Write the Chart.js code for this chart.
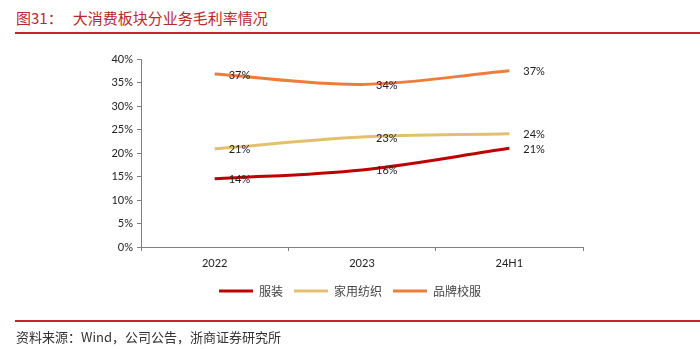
<!DOCTYPE html>
<html>
<head>
<meta charset="utf-8">
<script src="https://cdn.jsdelivr.net/npm/chart.js@4.4.1/dist/chart.umd.min.js"></script>
<style>
    html, body { margin: 0; padding: 0; background: #fff; }
    #wrap { position: relative; width: 700px; height: 349px; overflow: hidden; }
    #chart { position: absolute; left: 0; top: 0; }
    .titulo {
        position: absolute; left: 16px; top: 7px;
        font: 15px "Noto Sans CJK SC", sans-serif; color: #b8282e;
        white-space: nowrap;
    }
    .titulo span { margin-left: 10px; }
    .regla { position: absolute; left: 15px; right: 0; height: 2px; background: #c0262d; }
    .fuente {
        position: absolute; left: 16px; top: 327px;
        font: 13px "Noto Sans CJK SC", sans-serif; color: #333;
        white-space: nowrap;
    }
</style>
</head>
<body>
<div id="wrap">
    <div class="titulo">图31：<span>大消费板块分业务毛利率情况</span></div>
    <div class="regla" style="top: 32px;"></div>
    <canvas id="chart" width="700" height="349"></canvas>
    <div class="regla" style="top: 320px;"></div>
    <div class="fuente">资料来源：Wind，公司公告，浙商证券研究所</div>
</div>
<script>
// Datos
const periodos = ['2022', '2023', '24H1'];
const fuzhuang = [14.5, 16.4, 21.0];
const jiafang = [20.9, 23.4, 24.1];
const xiaofu = [36.8, 34.6, 37.5];
const etiquetas = {
    '服装': ['14%', '16%', '21%'],
    '家用纺织': ['21%', '23%', '24%'],
    '品牌校服': ['37%', '34%', '37%']
};
const yTicks = [0, 5, 10, 15, 20, 25, 30, 35, 40];

const fuenteEje = { family: 'Lato, "Liberation Sans", sans-serif', size: 11 };
const colorEje = '#808080';

// Etiquetas de valor a la derecha de cada punto
const valoresPlugin = {
    id: 'valores',
    afterDatasetsDraw(chart) {
        const ctx = chart.ctx;
        ctx.save();
        ctx.font = '11px Lato, "Liberation Sans", sans-serif';
        ctx.fillStyle = '#222';
        ctx.textAlign = 'left';
        ctx.textBaseline = 'middle';
        chart.data.datasets.forEach((ds, i) => {
            const textos = etiquetas[ds.label];
            chart.getDatasetMeta(i).data.forEach((pt, j) => {
                ctx.fillText(textos[j], pt.x + 14, pt.y + 1);
            });
        });
        ctx.restore();
    }
};

// La leyenda se centra en todo el ancho, no solo bajo el área del gráfico
const leyendaCentrada = {
    id: 'leyendaCentrada',
    afterLayout(chart) {
        const lg = chart.legend;
        if (lg) {
            lg.left = 0;
            lg.right = chart.width;
            lg.width = chart.width;
        }
    }
};

const serie = (label, data, color) => ({
    label: label,
    data: data,
    borderColor: color,
    backgroundColor: color,
    borderWidth: 3,
    pointRadius: 0,
    tension: 0.35,
    fill: false
});

new Chart(document.getElementById('chart'), {
    type: 'line',
    data: {
        labels: periodos,
        datasets: [
            serie('服装', fuzhuang, '#c00000'),
            serie('家用纺织', jiafang, '#e2c070'),
            serie('品牌校服', xiaofu, '#ee7d3a')
        ]
    },
    options: {
        responsive: false,
        animation: false,
        layout: { padding: { left: 0, right: 117, top: 59, bottom: 42 } },
        plugins: {
            tooltip: { enabled: false },
            legend: {
                position: 'bottom',
                labels: {
                    usePointStyle: true,
                    pointStyle: 'line',
                    pointStyleWidth: 34,
                    boxHeight: 12,
                    padding: 11,
                    color: '#444',
                    font: { family: '"Noto Sans CJK SC", sans-serif', size: 12 }
                }
            }
        },
        scales: {
            x: {
                offset: true,
                grid: { offset: true, drawOnChartArea: false, drawTicks: true, tickLength: 4, color: colorEje },
                border: { display: true, color: colorEje, width: 1 },
                ticks: { color: '#222', font: fuenteEje, padding: 6 },
                afterFit(scale) { scale.height = 27; }
            },
            y: {
                min: 0,
                max: 40,
                afterBuildTicks(scale) { scale.ticks = yTicks.map(v => ({ value: v })); },
                grid: { drawOnChartArea: false, drawTicks: true, tickLength: 4, color: colorEje },
                border: { display: true, color: colorEje, width: 1 },
                ticks: { color: '#222', font: fuenteEje, padding: 4, callback: v => v + '%' },
                afterFit(scale) { scale.width = 141; }
            }
        }
    },
    plugins: [valoresPlugin, leyendaCentrada]
});
</script>
</body>
</html>
